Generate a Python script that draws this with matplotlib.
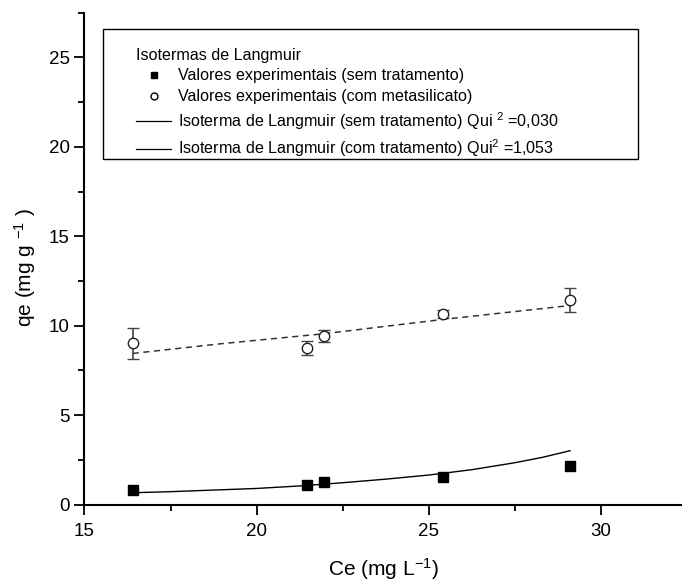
import numpy as np
import matplotlib
matplotlib.use("Agg")
import matplotlib.pyplot as plt
from matplotlib.lines import Line2D
from matplotlib.patches import Rectangle
from matplotlib.ticker import MultipleLocator

plt.rcParams['font.family'] = ['Liberation Sans', 'DejaVu Sans']
plt.rcParams['mathtext.default'] = 'regular'

# valores experimentais
ce = [16.4, 21.45, 21.95, 25.4, 29.1]
qe_sem = [0.81, 1.09, 1.24, 1.56, 2.15]
qe_com = [9.01, 8.75, 9.42, 10.65, 11.43]
err_com = [0.85, 0.39, 0.35, 0.24, 0.67]

# curvas ajustadas (pontos lidos ao longo das linhas)
ce_fit_sem = [16.4, 17.5, 18.75, 20.0, 21.25, 22.5, 23.75, 25.0, 26.25, 27.5, 28.3, 29.1]
qe_fit_sem = [0.66, 0.72, 0.81, 0.90, 1.04, 1.22, 1.42, 1.65, 1.95, 2.34, 2.64, 3.01]
ce_fit_com = [16.4, 19.0, 21.95, 25.4, 29.1]
qe_fit_com = [8.45, 9.0, 9.55, 10.35, 11.13]

fig = plt.figure(figsize=(6.82, 5.86), dpi=100)
ax = fig.add_axes([0.1239, 0.139, 0.876, 0.8392])

ax.plot(ce_fit_sem, qe_fit_sem, color='black', lw=1.0)
ax.plot(ce_fit_com, qe_fit_com, color='#333333', lw=1.1, ls=(0, (4, 3)))
ax.plot(ce, qe_sem, 's', color='black', ms=7, ls='none')
ax.errorbar(ce, qe_com, yerr=err_com, fmt='o', mfc='white', mec='#222222',
            ms=7.5, mew=1.0, ecolor='#444444', elinewidth=1.2, capsize=4.5, capthick=1.2)

ax.set_xlim(15, 32.35)
ax.set_ylim(0, 27.5)
ax.xaxis.set_major_locator(MultipleLocator(5))
ax.xaxis.set_minor_locator(MultipleLocator(2.5))
ax.yaxis.set_major_locator(MultipleLocator(5))
ax.yaxis.set_minor_locator(MultipleLocator(2.5))
ax.tick_params(which='major', direction='out', length=7, width=1.3, labelsize=13.5)
ax.tick_params(axis='x', which='major', pad=6)
ax.tick_params(which='minor', direction='out', length=4, width=1.3)
for s in ['top', 'right']:
    ax.spines[s].set_visible(False)
for s in ['left', 'bottom']:
    ax.spines[s].set_linewidth(1.5)

ax.set_xlabel('Ce (mg L$^{-1}$)', fontsize=15, labelpad=12)
ax.set_ylabel('qe (mg g $^{-1}$ )', fontsize=15, labelpad=8)
ax.yaxis.label.set_y(0.483)

# moldura da legenda
ax.add_patch(Rectangle((0.031, 0.7025), 0.895, 0.2645, transform=ax.transAxes,
                       fill=False, edgecolor='black', lw=1.0, zorder=5))

handles = [
    Line2D([], [], marker='s', color='black', ls='none', ms=5),
    Line2D([], [], marker='o', mfc='white', mec='black', ls='none', ms=5),
    Line2D([], [], color='black', lw=0.9),
    Line2D([], [], color='black', lw=0.9),
]
labels = [
    'Valores experimentais (sem tratamento)',
    'Valores experimentais (com metasilicato)',
    'Isoterma de Langmuir (sem tratamento) Qui $^{2}$ =0,030',
    'Isoterma de Langmuir (com tratamento) Qui$^{2}$ =1,053',
]
leg = ax.legend(handles, labels, title='Isotermas de Langmuir', loc='upper left',
                bbox_to_anchor=(0.0862, 0.929), fontsize=11.6, title_fontsize=11.6,
                alignment='left', frameon=False, borderpad=0, borderaxespad=0,
                handlelength=2.2, handletextpad=0.4, labelspacing=0.36)

fig.savefig('out.png', dpi=100)
